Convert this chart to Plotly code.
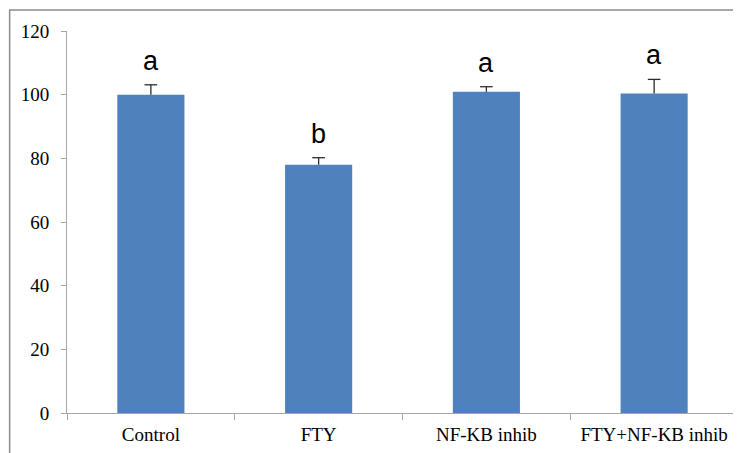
import plotly.graph_objects as go

categories = ["Control", "FTY", "NF-KB inhib", "FTY+NF-KB inhib"]
values = [100.0, 78.0, 100.9, 100.4]
errors = [3.1, 2.2, 1.6, 4.4]
letters = ["a", "b", "a", "a"]
y_ticks = [0, 20, 40, 60, 80, 100, 120]

tops = [v + e for v, e in zip(values, errors)]

fig = go.Figure()
fig.add_trace(go.Bar(
    x=categories, y=values,
    marker=dict(color="#4F81BD", line=dict(width=0)),
    error_y=dict(type="data", symmetric=False, array=errors,
                 arrayminus=[0] * len(errors),
                 color="#2b2b2b", thickness=1.3, width=0),
    width=0.4,
))
# error bar caps (top only)
fig.add_trace(go.Scatter(
    x=categories, y=tops, mode="markers",
    marker=dict(symbol="line-ew-open", size=9, color="#2b2b2b",
                line=dict(color="#2b2b2b", width=1.3)),
    hoverinfo="skip",
))

for c, t, lab in zip(categories, tops, letters):
    fig.add_annotation(x=c, y=t, text=lab, showarrow=False,
                       yanchor="bottom", yshift=7,
                       font=dict(family="Liberation Sans", size=27, color="#000000"))

fig.add_shape(type="rect", xref="paper", yref="paper",
              x0=-0.0855, x1=1.2, y0=-0.3, y1=1.055,
              line=dict(color="#8c8c8c", width=1.5), layer="below")

fig.update_layout(
    width=733, height=445,
    margin=dict(l=59, r=3, t=23, b=40),
    plot_bgcolor="white", paper_bgcolor="white",
    showlegend=False,
    font=dict(family="Liberation Serif", size=19, color="#000000"),
    xaxis=dict(showline=True, linecolor="#a6a6a6", linewidth=1,
               ticks="outside", tickson="boundaries", ticklen=6,
               tickcolor="#a6a6a6", showgrid=False, ticklabelstandoff=4,
               tickfont=dict(family="Liberation Serif", size=19)),
    yaxis=dict(range=[0, 120], tickvals=y_ticks, showline=True,
               linecolor="#a6a6a6", linewidth=1, ticks="outside",
               ticklen=5, tickcolor="#a6a6a6", showgrid=False,
               zeroline=False, ticklabelstandoff=8,
               tickfont=dict(family="Liberation Serif", size=19)),
)

fig.write_html("out.html")
